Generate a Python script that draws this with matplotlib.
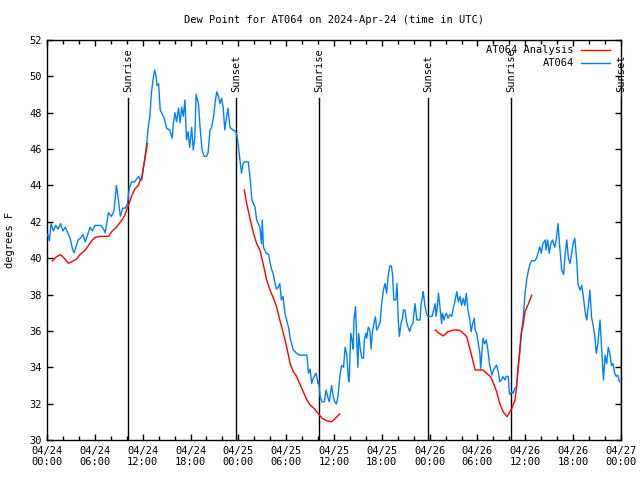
import numpy as np
import matplotlib
matplotlib.use("Agg")
import matplotlib.pyplot as plt
from matplotlib.lines import Line2D

plt.rcParams['font.family'] = ['DejaVu Sans Mono']

# ---- data (hours since 2024-04-24 00:00 UTC) ----
obs_hours = [0.1,0.3,0.5,0.8,1.1,1.4,1.7,2.0,2.3,2.6,2.9,3.2,3.4,3.7,3.9,4.2,4.5,4.8,5.1,5.4,5.7,6.0,6.4,6.8,7.1,7.3,7.7,8.1,8.4,8.7,8.9,9.2,9.5,9.8,10.1,10.3,10.6,11.0,11.5,11.7,11.9,12.1,12.3,12.5,12.7,12.9,13.1,13.3,13.5,13.65,13.8,14.0,14.2,14.4,14.7,15.0,15.4,15.7,15.85,16.05,16.25,16.5,16.7,16.9,17.1,17.3,17.5,17.7,17.9,18.15,18.35,18.55,18.7,19.0,19.2,19.45,19.7,20.0,20.2,20.45,20.65,20.9,21.1,21.3,21.5,21.7,21.9,22.1,22.3,22.5,22.7,22.95,23.3,23.6,23.8,24.0,24.2,24.4,24.6,24.8,25.25,25.5,25.7,25.9,26.1,26.3,26.5,26.7,26.9,27.0,27.15,27.5,27.8,28.0,28.2,28.4,28.6,28.8,29.0,29.2,29.4,29.6,29.85,30.05,30.3,30.5,30.9,31.3,31.7,32.6,32.8,33.0,33.2,33.4,33.75,34.0,34.1,34.25,34.5,34.8,35.0,35.2,35.4,35.7,35.9,36.1,36.3,36.5,36.75,36.96,37.2,37.4,37.6,37.8,37.9,38.1,38.3,38.4,38.5,38.7,38.85,39.0,39.1,39.3,39.5,39.7,39.8,40.0,40.1,40.3,40.5,40.65,40.8,41.05,41.2,41.35,41.55,41.8,41.96,42.2,42.4,42.6,42.8,43.0,43.2,43.35,43.5,43.75,43.9,44.06,44.2,44.4,44.6,44.7,44.9,45.1,45.3,45.5,45.7,45.9,46.16,46.4,46.8,46.9,47.1,47.2,47.4,47.6,47.8,48.3,48.5,48.7,48.8,48.96,49.1,49.3,49.5,49.6,49.8,49.9,50.1,50.3,50.55,50.77,50.97,51.2,51.4,51.6,51.8,52.0,52.2,52.4,52.6,52.8,53.05,53.2,53.4,53.6,53.7,53.9,54.1,54.3,54.4,54.6,54.7,54.9,55.1,55.3,55.5,55.8,56.0,56.2,56.4,56.6,56.8,57.0,57.2,57.45,57.6,57.85,58.0,58.1,58.3,58.45,58.7,58.9,59.1,59.3,59.5,59.75,59.96,60.2,60.4,60.6,60.8,61.2,61.4,61.6,61.8,62.0,62.2,62.5,62.6,62.8,63.0,63.2,63.4,63.7,63.9,64.1,64.35,64.56,64.8,65.0,65.2,65.4,65.6,65.8,66.0,66.2,66.45,66.6,66.85,67.07,67.3,67.5,67.7,67.9,68.1,68.3,68.5,68.7,68.9,69.1,69.37,69.6,69.8,70.0,70.2,70.4,70.6,70.8,71.0,71.2,71.4,71.6,71.8]
obs_values = [41.3,40.95,41.9,41.5,41.8,41.6,41.9,41.5,41.7,41.4,41.1,40.5,40.3,40.7,41.0,41.1,41.3,40.9,41.3,41.7,41.5,41.8,41.8,41.8,41.6,41.4,42.5,42.3,42.6,44.0,43.4,42.3,42.75,42.75,43.0,43.8,44.2,44.2,44.5,44.3,44.3,45.0,45.6,46.3,47.2,47.8,49.1,49.8,50.35,50.1,49.5,49.6,48.15,47.97,47.7,47.15,47.05,46.6,47.4,48.0,47.5,48.25,47.45,48.3,47.8,48.7,46.5,46.96,46.1,47.2,45.95,46.7,49.0,48.5,47.2,45.95,45.6,45.6,45.8,47.05,47.2,47.8,48.6,49.15,48.9,48.5,48.8,48.3,47.05,47.7,48.25,47.2,47.05,47.0,46.8,46.2,45.4,44.67,45.2,45.3,45.3,44.3,43.2,43.0,42.8,42.1,41.9,41.7,40.8,42.1,40.6,40.27,40.2,39.7,39.35,39.1,38.6,38.3,38.4,38.6,37.7,37.9,36.97,36.6,36.2,35.6,34.95,34.77,34.67,34.67,33.67,33.9,33.1,33.4,33.67,33.1,33.2,32.4,32.1,32.1,32.75,32.4,32.1,33.0,32.4,32.1,31.98,32.4,33.57,34.1,34.0,35.1,34.7,33.4,33.2,35.87,35.4,35.0,36.6,37.33,35.5,34.0,35.85,35.0,34.5,34.5,35.5,35.87,35.6,36.2,36.05,35.0,35.87,36.5,36.78,36.05,36.2,36.5,37.43,38.25,38.6,38.07,39.07,39.57,39.57,39.07,37.7,37.7,38.6,36.6,35.7,36.4,36.7,37.15,37.15,36.5,36.2,35.97,36.3,36.4,37.5,36.6,36.6,37.4,37.88,38.16,37.4,36.95,36.8,36.8,37.15,37.5,36.8,37.3,38.07,37.3,36.4,36.97,36.6,36.8,36.97,36.7,36.9,36.8,37.25,37.7,38.16,37.6,37.9,37.4,37.8,37.4,38.07,37.15,36.6,35.96,36.4,36.7,36.05,35.87,35.3,34.77,33.94,35.1,35.6,35.3,35.5,34.95,34.2,33.57,33.85,34.0,34.12,33.75,33.2,33.3,33.48,33.3,33.5,33.5,32.57,32.5,32.65,32.57,32.85,32.93,34.0,34.77,35.87,36.78,38.07,38.9,39.35,39.7,39.86,39.86,40.0,40.27,40.63,40.27,40.8,41.0,40.45,41.0,40.27,40.8,41.0,40.6,41.1,41.9,40.45,39.35,39.1,40.27,41.0,40.0,39.7,40.27,40.8,41.1,39.86,38.6,38.25,38.5,37.8,37.06,36.6,37.33,38.25,36.78,36.3,35.77,34.77,35.3,36.6,34.77,33.3,34.67,34.2,35.1,34.77,34.1,34.2,33.67,33.5,33.57,33.2]

ana_hours_1 = [0.67,1.2,1.7,2.05,2.7,3.1,3.7,4.1,4.8,5.2,5.6,6.0,6.65,7.7,8.1,8.7,9.4,9.8,10.1,10.3,10.6,11.0,11.45,11.9,12.1,12.3,12.6]
ana_values_1 = [39.85,40.08,40.2,40.05,39.72,39.8,39.95,40.18,40.45,40.7,40.95,41.13,41.2,41.2,41.45,41.7,42.1,42.4,42.8,43.0,43.4,43.8,44.0,44.5,45.0,45.5,46.3]
ana_hours_2 = [24.75,25.05,25.5,25.9,26.3,26.7,27.1,27.55,27.97,28.4,28.8,29.2,29.6,30.07,30.5,30.9,31.3,31.7,32.15,32.6,33.0,33.6,34.0,34.5,35.1,35.7,36.25,36.7]
ana_values_2 = [43.75,43.0,42.1,41.37,40.8,40.45,39.72,38.8,38.25,37.8,37.33,36.6,35.96,35.1,34.2,33.76,33.5,33.1,32.65,32.2,31.93,31.69,31.47,31.2,31.06,31.0,31.23,31.43]
ana_hours_3 = [48.7,49.1,49.7,50.3,50.97,51.6,52.0,52.65,52.97,53.3,53.7,54.7,55.15,55.65,56.0,56.4,56.8,57.2,57.7,58.0,58.3,58.7,58.9,59.1,59.3,59.5,59.75,59.96,60.4,60.8]
ana_values_3 = [36.05,35.9,35.72,35.96,36.05,36.05,35.96,35.68,35.13,34.58,33.85,33.85,33.67,33.48,33.12,32.66,32.0,31.56,31.28,31.5,31.74,32.2,32.93,34.0,34.95,35.87,36.4,37.06,37.5,37.97]

event_hours = [10.16, 23.7, 34.1, 47.8, 58.2, 72.0]
event_labels = ["Sunrise", "Sunset", "Sunrise", "Sunset", "Sunrise", "Sunset"]

tick_hours = [0, 6, 12, 18, 24, 30, 36, 42, 48, 54, 60, 66, 72]
tick_labels = ["04/24\n00:00", "04/24\n06:00", "04/24\n12:00", "04/24\n18:00",
               "04/25\n00:00", "04/25\n06:00", "04/25\n12:00", "04/25\n18:00",
               "04/26\n00:00", "04/26\n06:00", "04/26\n12:00", "04/26\n18:00",
               "04/27\n00:00"]

BLUE = "#0080ff"
RED = "#ff0000"
FS = 7.5

fig = plt.figure(figsize=(6.4, 4.8), dpi=100)
ax = fig.add_axes([47/640, 40/480, 574/640, 400/480])

ax.plot(obs_hours, obs_values, color=BLUE, lw=1.0, zorder=3)
for hh, vv in [(ana_hours_1, ana_values_1), (ana_hours_2, ana_values_2), (ana_hours_3, ana_values_3)]:
    ax.plot(hh, vv, color=RED, lw=1.0, zorder=4)

for h, lab in zip(event_hours, event_labels):
    ax.axvline(h, ymin=0, ymax=0.855, color="black", lw=1.0, zorder=2)
    ax.text(h, 0.87, lab, transform=ax.get_xaxis_transform(), rotation=90,
            ha="center", va="bottom", fontsize=FS, clip_on=False)

ax.set_xlim(0, 72)
ax.set_ylim(30, 52)
ax.set_xticks(tick_hours)
ax.set_xticklabels(tick_labels, fontsize=FS)
ax.set_xticks(np.arange(0, 73, 2), minor=True)
ax.set_yticks(np.arange(30, 53, 2))
ax.set_yticklabels([str(v) for v in range(30, 53, 2)], fontsize=FS)
ax.tick_params(which="both", direction="in", top=True, right=True, length=4, width=1, pad=4)
ax.tick_params(which="minor", length=3)
for s in ax.spines.values():
    s.set_linewidth(1.0)

ax.set_ylabel("degrees F", fontsize=FS, labelpad=10)
fig.text(334/640, 1 - 20/480, "Dew Point for AT064 on 2024-Apr-24 (time in UTC)",
         ha="center", va="center", fontsize=FS)

# legend (manual, gnuplot style)
for yf, lab, col in [(0.975, "AT064 Analysis", RED), (0.9425, "AT064", BLUE)]:
    ax.text(0.918, yf, lab, transform=ax.transAxes, ha="right", va="center", fontsize=FS)
    ax.add_line(Line2D([0.930, 0.981], [yf, yf], transform=ax.transAxes, color=col, lw=1.0))

fig.savefig("out.png", dpi=100)
